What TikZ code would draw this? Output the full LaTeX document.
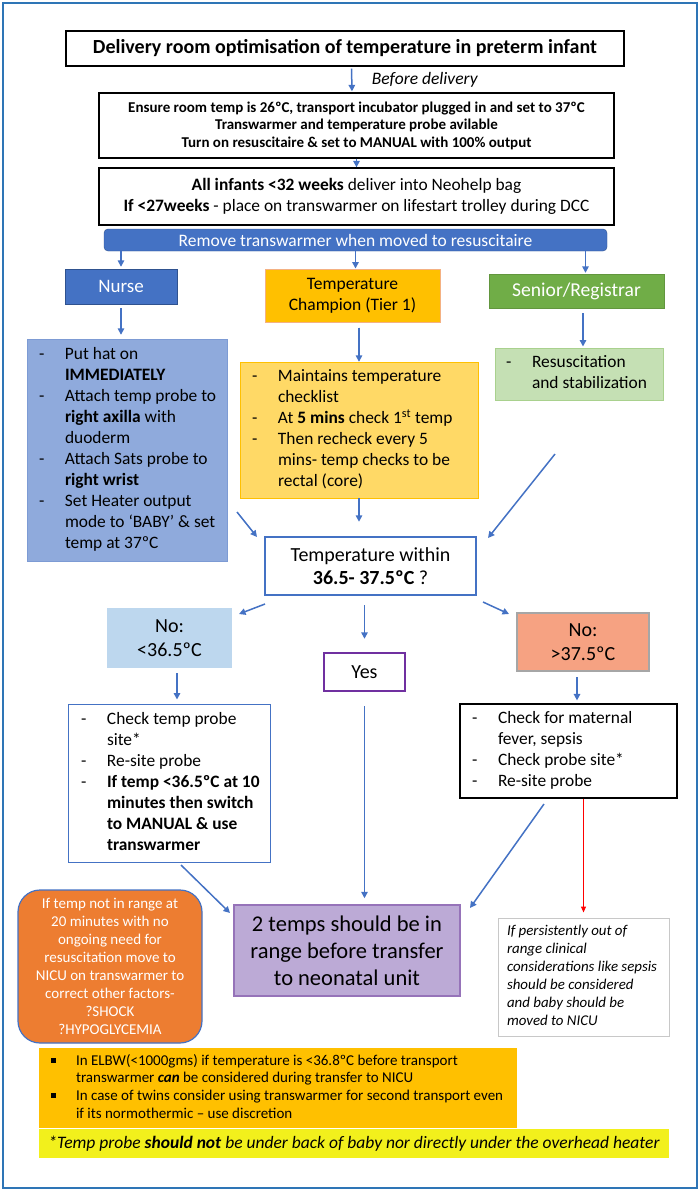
\documentclass[tikz,border=0pt]{standalone}
\usepackage{fontspec}
\setmainfont{Carlito}
\usetikzlibrary{arrows.meta,calc}

\definecolor{frameblue}{RGB}{46,117,182}
\definecolor{arrowblue}{RGB}{68,114,196}
\definecolor{darkblue}{RGB}{47,82,143}
\definecolor{champgold}{RGB}{255,192,0}
\definecolor{champedge}{RGB}{244,177,131}
\definecolor{seniorgreen}{RGB}{112,173,71}
\definecolor{senioredge}{RGB}{98,150,62}
\definecolor{nurselight}{RGB}{143,170,220}
\definecolor{nurseedge}{RGB}{125,155,212}
\definecolor{champlight}{RGB}{255,217,102}
\definecolor{seniorlight}{RGB}{197,224,180}
\definecolor{senioredgel}{RGB}{169,209,142}
\definecolor{lowblue}{RGB}{189,215,238}
\definecolor{yespurple}{RGB}{112,48,160}
\definecolor{highsalmon}{RGB}{246,162,130}
\definecolor{highedge}{RGB}{166,166,166}
\definecolor{translav}{RGB}{188,170,214}
\definecolor{transedge}{RGB}{150,115,185}
\definecolor{nicuorange}{RGB}{237,125,49}
\definecolor{persistedge}{RGB}{200,200,200}
\definecolor{probeyellow}{RGB}{242,240,28}

% list with dashes, fixed width, left aligned
\newcommand{\dashlist}[2]{\makebox[#1][l]{\begin{tabular}{@{}p{26pt}@{}l@{}}#2\end{tabular}}}
\newcommand{\sqbullet}{\rule[2.5pt]{4.5pt}{4.5pt}}

\begin{document}
\begin{tikzpicture}[x=1pt, y=-1pt,
    arr/.style={-{Triangle[length=6.5pt,width=6.5pt]}, line width=1.5pt, draw=arrowblue, fill=arrowblue},
    box/.style={rectangle, inner sep=0pt, align=center},
    listfont/.style={font=\fontsize{17.4}{21}\selectfont}
  ]

  % Page and frame
  \useasboundingbox (0,0) rectangle (700,1191);
  \draw[frameblue, line width=2pt] (3,3) rectangle (697,1188);

  % Before delivery
  \node[box, draw=black, line width=1.3pt, minimum width=558pt, minimum height=35pt,
    font=\fontsize{20}{22}\selectfont\bfseries] (title) at (345,48.5)
    {Delivery room optimisation of temperature in preterm infant};
  \node[box, draw=black, line width=1.3pt, minimum width=515pt, minimum height=65pt,
    font=\fontsize{15}{17.5}\selectfont\bfseries] (prep) at (356.5,125.5)
    {Ensure room temp is 26ºC, transport incubator plugged in and set to 37ºC\\
     Transwarmer and temperature probe avilable\\
     Turn on resuscitaire \& set to MANUAL with 100\% output};
  \node[box, draw=black, line width=1.3pt, minimum width=515pt, minimum height=57pt,
    font=\fontsize{17.4}{20.5}\selectfont] (infants) at (356.5,196.5)
    {\textbf{All infants <32 weeks} deliver into Neohelp bag\\
     \textbf{If <27weeks} - place on transwarmer on lifestart trolley during DCC};
  \node[box, draw=darkblue, fill=arrowblue, rounded corners=4pt, minimum width=503pt, minimum height=22pt,
    text=white, font=\fontsize{17.5}{18}\selectfont] (bar) at (355.5,240)
    {Remove transwarmer when moved to resuscitaire};

  % Roles
  \node[box, draw=darkblue, fill=arrowblue, minimum width=112pt, minimum height=35pt,
    text=white, font=\fontsize{19}{21}\selectfont] (nurse) at (121,286.5) {Nurse};
  \node[box, draw=champedge, line width=1pt, fill=champgold, minimum width=175pt, minimum height=53pt,
    font=\fontsize{17.5}{21}\selectfont] (champ) at (352.5,295.5) {Temperature\\Champion (Tier 1)};
  \node[box, draw=senioredge, fill=seniorgreen, minimum width=175pt, minimum height=34pt,
    text=white, font=\fontsize{19.6}{21}\selectfont] (senior) at (576.5,291) {Senior/Registrar};

  % Tasks
  \node[box, listfont, draw=nurseedge, fill=nurselight, minimum width=200pt, minimum height=222pt] (nurselist) at (127,450)
    {\dashlist{176pt}{- & Put hat on\\ & \textbf{IMMEDIATELY}\\
      - & Attach temp probe to\\ & \textbf{right axilla} with\\ & duoderm\\
      - & Attach Sats probe to\\ & \textbf{right wrist}\\
      - & Set Heater output\\ & mode to ‘BABY’ \& set\\ & temp at 37ºC}};
  \node[box, listfont, draw=champgold, fill=champlight, minimum width=238pt, minimum height=136pt] (champlist) at (359,430)
    {\dashlist{214pt}{- & Maintains temperature\\ & checklist\\
      - & At \textbf{5 mins} check 1\textsuperscript{st} temp\\
      - & Then recheck every 5\\ & mins- temp checks to be\\ & rectal (core)}};
  \node[box, listfont, draw=senioredgel, line width=1pt, fill=seniorlight, minimum width=168pt, minimum height=52pt] (seniorlist) at (579,374)
    {\dashlist{146pt}{- & Resuscitation\\ & and stabilization}};

  % Check
  \node[box, draw=arrowblue, line width=2.5pt, fill=white, minimum width=211pt, minimum height=58pt,
    font=\fontsize{20}{23}\selectfont] (decide) at (370.5,566) {Temperature within\\\textbf{36.5- 37.5ºC} ?};
  \node[box, fill=lowblue, minimum width=125pt, minimum height=60pt,
    font=\fontsize{20}{24}\selectfont] (low) at (169.5,638) {No:\\<36.5ºC};
  \node[box, draw=yespurple, line width=2.5pt, minimum width=81pt, minimum height=38pt,
    font=\fontsize{20}{22}\selectfont] (yes) at (364.5,672) {Yes};
  \node[box, draw=highedge, line width=2.5pt, fill=highsalmon, minimum width=132pt, minimum height=58pt,
    font=\fontsize{20}{24}\selectfont] (high) at (583,642) {No:\\>37.5ºC};

  \node[box, listfont, draw=arrowblue, line width=1pt, minimum width=202pt, minimum height=158pt] (lowlist) at (169,783)
    {\dashlist{176pt}{- & Check temp probe\\ & site*\\
      - & Re-site probe\\
      - & \textbf{If temp <36.5ºC at 10}\\ & \textbf{minutes then switch}\\ & \textbf{to MANUAL \& use}\\ & \textbf{transwarmer}}};
  \node[box, listfont, draw=black, line width=1.2pt, minimum width=217pt, minimum height=94pt] (highlist) at (568.5,751)
    {\dashlist{193pt}{- & Check for maternal\\ & fever, sepsis\\
      - & Check probe site*\\
      - & Re-site probe}};

  % Outcome
  \node[box, draw=transedge, line width=1.5pt, fill=translav, minimum width=226pt, minimum height=91pt,
    font=\fontsize{22.5}{27}\selectfont] (transfer) at (347,950.5)
    {2 temps should be in\\range before transfer\\to neonatal unit};
  \node[box, draw=arrowblue, line width=1.2pt, fill=nicuorange, rounded corners=22pt, minimum width=184pt, minimum height=153pt,
    text=white, font=\fontsize{15}{18}\selectfont] (nicu) at (110,966.5)
    {If temp not in range at\\20 minutes with no\\ongoing need for\\resuscitation move to\\NICU on transwarmer to\\correct other factors-\\?SHOCK\\?HYPOGLYCEMIA};
  \node[box, draw=persistedge, line width=1pt, minimum width=171pt, minimum height=118pt,
    font=\fontsize{14.9}{18}\selectfont\itshape] (persist) at (583.5,977)
    {\makebox[153pt][l]{\begin{tabular}{@{}l@{}}If persistently out of\\range clinical\\considerations like sepsis\\should be considered\\and baby should be\\moved to NICU\end{tabular}}};

  % Notes
  \node[box, fill=champgold, minimum width=478pt, minimum height=80pt,
    font=\fontsize{15}{17.7}\selectfont] (elbw) at (278,1088)
    {\makebox[454pt][l]{\begin{tabular}{@{}p{25pt}@{}l@{}}
      \sqbullet & In ELBW(<1000gms) if temperature is <36.8ºC before transport\\
       & transwarmer \textbf{\textit{can}} be considered during transfer to NICU\\
      \sqbullet & In case of twins consider using transwarmer for second transport even\\
       & if its normothermic – use discretion\end{tabular}}};
  \node[box, fill=probeyellow, minimum width=630pt, minimum height=29pt,
    font=\fontsize{17.5}{19}\selectfont\itshape] (probe) at (354,1143.5)
    {*Temp probe \textbf{should not} be under back of baby nor directly under the overhead heater};

  % Free ends of the slanted arrows
  \coordinate (nurseout) at (237,512);
  \coordinate (decidenw) at (257,537);
  \coordinate (seniorout) at (555,454);
  \coordinate (decidene) at (488,538);
  \coordinate (lowout) at (265,604);
  \coordinate (lowin) at (239,614);
  \coordinate (highout) at (483,602);
  \coordinate (highin) at (509,614);
  \coordinate (lowlistout) at (181,865);
  \coordinate (transnw) at (230,913);
  \coordinate (highlistout) at (544,804);
  \coordinate (transne) at (470,908);

  % Connectors
  \draw[arr, shorten <=2pt, shorten >=1pt] ([xshift=6.5pt]title.south) -- ([xshift=-4.5pt]prep.north)
    node[midway, anchor=west, xshift=16pt, draw=none, fill=none, font=\fontsize{17.5}{19}\selectfont\itshape] (before) {Before delivery};
  \draw[arr] (prep.south) -- (infants.north);
  \draw[arr, shorten >=2pt] (bar.south -| nurse.north) -- (nurse.north);
  \draw[arr] (bar.south) -- (bar.south |- champ.north);
  \draw[arr, shorten >=1pt] ($(bar.south -| senior.north)+(9,0)$) -- ($(senior.north)+(9,0)$);
  \draw[arr, shorten <=4pt, shorten >=4pt] (nurse.south) -- (nurse.south |- nurselist.north);
  \draw[arr, shorten <=5pt] (champlist.north |- champ.south) -- (champlist.north);
  \draw[arr, shorten <=5pt, shorten >=1pt] ($(seniorlist.north |- senior.south)+(4,0)$) -- ($(seniorlist.north)+(4,0)$);
  \draw[arr, shorten >=14pt] (champlist.south) -- (champlist.south |- decide.north);
  \draw[arr] (nurseout) -- (decidenw);
  \draw[arr] (seniorout) -- (decidene);
  \draw[arr] (lowout) -- (lowin);
  \draw[arr, shorten <=9pt, shorten >=13pt] (decide.south -| yes.north) -- (yes.north);
  \draw[arr] (highout) -- (highin);
  \draw[arr, shorten <=5pt, shorten >=4pt] ($(low.south)+(7.5,0)$) -- ($(low.south |- lowlist.north)+(7.5,0)$);
  \draw[arr, shorten <=5pt, shorten >=3pt] ($(high.south)+(-6,0)$) -- ($(high.south |- highlist.north)+(-6,0)$);
  \draw[arr] (lowlistout) -- (transnw);
  \draw[arr, shorten <=14pt, shorten >=6pt] (yes.south) -- (yes.south |- transfer.north);
  \draw[arr] (highlistout) -- (transne);
  \draw[red, line width=1pt, -{Triangle[length=6pt,width=5pt]}, shorten >=5pt] (highlist.south -| persist.north) -- (persist.north);

\end{tikzpicture}
\end{document}
